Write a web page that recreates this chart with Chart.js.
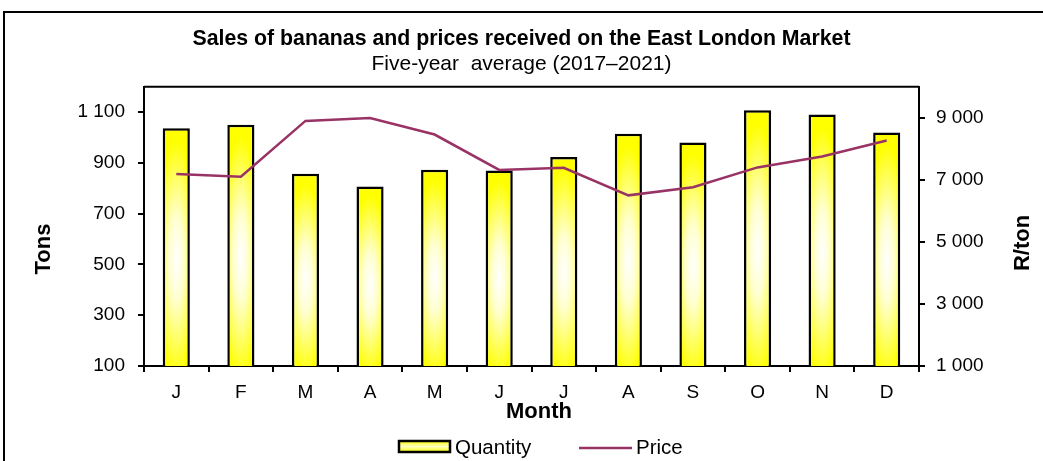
<!DOCTYPE html>
<html>
<head>
<meta charset="utf-8">
<script src="https://cdn.jsdelivr.net/npm/chart.js@4"></script>
<style>
  html, body { margin: 0; padding: 0; background: #fff; }
  #wrap { width: 1043px; height: 461px; }
</style>
</head>
<body>
<div id="wrap"><canvas id="myChart" width="1043" height="461"></canvas></div>
<script>
const months = ['J', 'F', 'M', 'A', 'M', 'J', 'J', 'A', 'S', 'O', 'N', 'D'];
const quantity = [1037, 1050, 857, 807, 873, 870, 923, 1015, 980, 1107, 1091, 1020];
const price = [7190, 7100, 8900, 8990, 8460, 7320, 7390, 6500, 6760, 7400, 7750, 8270];
const tonsTicks = [100, 300, 500, 700, 900, 1100];
const priceTicks = [1000, 3000, 5000, 7000, 9000];

const FONT = "'Liberation Sans', Arial, sans-serif";
Chart.defaults.font.family = FONT;
Chart.defaults.font.size = 19;
Chart.defaults.color = '#000';

function fmt(v) {
    return String(v).replace(/\B(?=(\d{3})+(?!\d))/g, ' ');
}

// yellow bar with a soft white glow in the middle
function barFill(context) {
    const chart = context.chart;
    if (!chart.chartArea || context.type !== 'data') return '#ffff00';
    const xs = chart.scales.x, ys = chart.scales.y;
    const w = Math.max(2, xs.width / months.length * 0.42);
    const cx = xs.getPixelForValue(context.dataIndex);
    const top = ys.getPixelForValue(context.raw);
    const h = Math.max(2, ys.getPixelForValue(ys.min) - top);
    const off = document.createElement('canvas');
    off.width = Math.ceil(w) + 2;
    off.height = Math.ceil(h) + 2;
    const oc = off.getContext('2d');
    oc.fillStyle = '#ffff00';
    oc.fillRect(0, 0, off.width, off.height);
    oc.save();
    oc.translate(w / 2, h * 0.55);
    oc.scale(w * 0.75, h * 0.5);
    const g = oc.createRadialGradient(0, 0, 0, 0, 0, 1);
    g.addColorStop(0, '#ffffff');
    g.addColorStop(0.35, '#ffffd0');
    g.addColorStop(1, '#ffff00');
    oc.fillStyle = g;
    oc.fillRect(-2, -2, 4, 4);
    oc.restore();
    const pat = chart.ctx.createPattern(off, 'no-repeat');
    pat.setTransform(new DOMMatrix().translate(cx - w / 2, top));
    return pat;
}

const frame = {
    id: 'frame',
    afterDraw(chart) {
        const c = chart.ctx, a = chart.chartArea;
        c.save();
        c.strokeStyle = '#000';
        c.lineWidth = 2;
        c.beginPath();
        c.moveTo(4, 461); c.lineTo(4, 12); c.lineTo(1043, 12);
        c.moveTo(a.left, a.top); c.lineTo(a.right, a.top);
        c.stroke();

        c.fillStyle = '#000';
        c.textBaseline = 'middle';
        c.textAlign = 'center';
        c.font = 'bold 22px ' + FONT;
        c.save(); c.translate(44, 249); c.rotate(-Math.PI / 2); c.fillText('Tons', 0, 0); c.restore();
        c.save(); c.translate(1023, 243); c.rotate(-Math.PI / 2); c.fillText('R/ton', 0, 0); c.restore();
        c.fillText('Month', 539, 412);

        // legend
        const lg = c.createLinearGradient(0, 441, 0, 452);
        lg.addColorStop(0, '#ffff00');
        lg.addColorStop(0.5, '#ffffc0');
        lg.addColorStop(1, '#ffff00');
        c.fillStyle = lg;
        c.fillRect(399, 441, 51, 11);
        c.lineWidth = 2.5;
        c.strokeRect(399, 441, 51, 11);
        c.strokeStyle = '#993366';
        c.beginPath(); c.moveTo(579, 448); c.lineTo(632, 448); c.stroke();
        c.fillStyle = '#000';
        c.textAlign = 'left';
        c.font = '20.5px ' + FONT;
        c.fillText('Quantity', 455, 448);
        c.fillText('Price', 636, 448);
        c.restore();
    }
};

new Chart(document.getElementById('myChart'), {
    type: 'bar',
    data: {
        labels: months,
        datasets: [
            {
                type: 'line',
                label: 'Price',
                data: price,
                yAxisID: 'y1',
                borderColor: '#993366',
                borderWidth: 2.5,
                pointRadius: 0,
                tension: 0,
                order: 0
            },
            {
                label: 'Quantity',
                data: quantity,
                yAxisID: 'y',
                backgroundColor: barFill,
                borderColor: '#000',
                borderWidth: 2.5,
                barPercentage: 0.42,
                categoryPercentage: 1,
                order: 1
            }
        ]
    },
    options: {
        responsive: false,
        animation: false,
        layout: { padding: { bottom: 55 } },
        plugins: {
            legend: { display: false },
            tooltip: { enabled: false },
            title: {
                display: true,
                text: 'Sales of bananas and prices received on the East London Market',
                font: { weight: 'bold', size: 21.3 },
                padding: { top: 26, bottom: 0 }
            },
            subtitle: {
                display: true,
                text: 'Five-year  average (2017–2021)',
                font: { size: 21 },
                color: '#000',
                padding: { top: 0, bottom: 10 }
            }
        },
        scales: {
            x: {
                grid: { display: true, drawOnChartArea: false, offset: true, tickLength: 6, color: '#000', lineWidth: 2 },
                border: { color: '#000', width: 2 },
                ticks: { padding: 9 },
                afterFit: s => { s.height = 40; }
            },
            y: {
                position: 'left',
                min: 100,
                max: 1200,
                afterBuildTicks: s => { s.ticks = tonsTicks.map(v => ({ value: v })); },
                ticks: { padding: 13, callback: v => fmt(v) },
                grid: { drawOnChartArea: false, tickLength: 6, color: '#000', lineWidth: 2 },
                border: { color: '#000', width: 2 },
                afterFit: s => { s.width = 144; }
            },
            y1: {
                position: 'right',
                min: 1000,
                max: 10000,
                afterBuildTicks: s => { s.ticks = priceTicks.map(v => ({ value: v })); },
                ticks: { padding: 11, callback: v => fmt(v) },
                grid: { drawOnChartArea: false, tickLength: 6, color: '#000', lineWidth: 2 },
                border: { color: '#000', width: 2 },
                afterFit: s => { s.width = 124; }
            }
        }
    },
    plugins: [frame]
});
</script>
</body>
</html>
